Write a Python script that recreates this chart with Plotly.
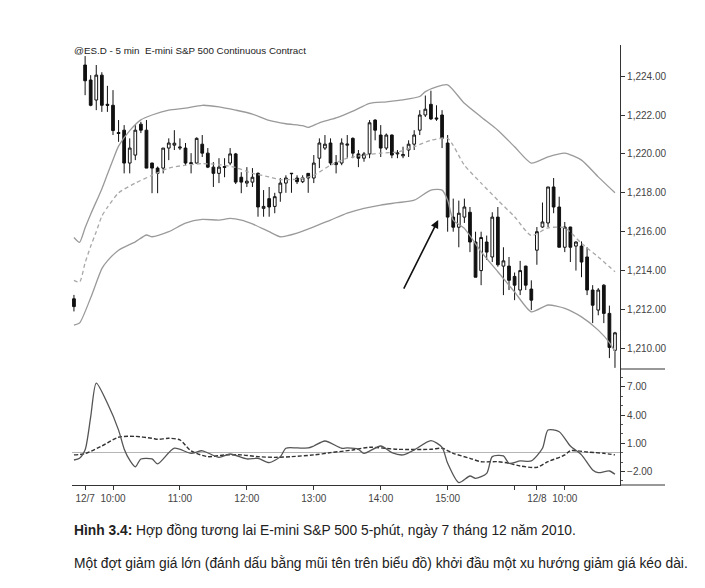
import plotly.graph_objects as go

# ---------------- data ----------------
DAY_OFFSET = {"12/6": -1, "12/7": 0, "12/8": 1}
SESSION_START = 9 * 60 + 35      # first 5-min bar of a session ends at 9:35
BARS_PER_SESSION = 81            # 9:35 ... 16:15


def clock(start_min, n):
    return [f"{(start_min + 5 * i) // 60}:{(start_min + 5 * i) % 60:02d}" for i in range(n)]


bar_times = (["12/6 16:10"]
             + ["12/7 " + t for t in clock(SESSION_START, 81)]
             + ["12/8 " + t for t in clock(SESSION_START, 15)])

opens = [1212.55,
         1224.57, 1223.80, 1222.77, 1224.05, 1222.55, 1222.50, 1221.10, 1221.22, 1219.53, 1219.94,
         1221.53, 1221.22, 1219.53, 1219.27, 1219.27, 1220.30, 1220.45, 1220.30, 1220.30, 1219.55,
         1219.53, 1220.50, 1220.04, 1219.32, 1219.00, 1219.30, 1219.53, 1220.00, 1218.80, 1218.50,
         1218.55, 1219.00, 1217.20, 1217.70, 1217.30, 1218.00, 1218.50, 1218.98, 1218.76, 1218.57,
         1219.00, 1218.76, 1219.78, 1220.30, 1220.56, 1219.45, 1219.53, 1220.45, 1220.80, 1220.00,
         1219.78, 1220.00, 1221.74, 1220.97, 1220.30, 1220.97, 1220.00, 1219.90, 1220.20, 1220.50,
         1221.22, 1222.00, 1222.55, 1221.85, 1222.00, 1220.56, 1216.75, 1216.23, 1216.75, 1217.00,
         1215.47, 1214.00, 1215.47, 1214.70, 1216.75, 1214.23, 1214.23, 1213.70, 1213.00, 1214.23,
         1213.05,
         1215.05, 1216.24, 1216.45, 1218.30, 1217.27, 1215.20, 1216.24, 1215.26, 1215.26, 1214.70,
         1213.00, 1211.97, 1213.25, 1211.80, 1209.90]
highs = [1212.75,
         1225.03, 1224.05, 1224.57, 1224.20, 1223.50, 1223.28, 1221.74, 1221.48, 1220.80, 1221.48,
         1221.65, 1221.74, 1219.55, 1219.35, 1220.30, 1220.80, 1221.22, 1220.80, 1220.56, 1220.04,
         1220.85, 1220.97, 1220.30, 1219.58, 1219.78, 1219.78, 1220.30, 1220.05, 1219.06, 1219.32,
         1219.27, 1219.05, 1218.14, 1218.30, 1218.00, 1218.76, 1218.90, 1219.00, 1218.90, 1218.90,
         1219.00, 1219.94, 1220.80, 1220.97, 1220.80, 1219.94, 1220.80, 1220.97, 1220.85, 1220.20,
         1220.10, 1221.74, 1221.78, 1221.48, 1221.05, 1221.00, 1220.20, 1220.37, 1220.70, 1221.22,
         1222.25, 1223.00, 1223.25, 1222.50, 1222.25, 1220.97, 1217.70, 1217.60, 1217.70, 1217.27,
         1216.00, 1216.00, 1215.80, 1217.00, 1217.27, 1215.20, 1214.70, 1213.90, 1214.50, 1214.25,
         1213.50,
         1216.24, 1217.50, 1218.30, 1218.76, 1217.80, 1216.50, 1216.25, 1215.50, 1215.50, 1215.20,
         1213.25, 1213.10, 1213.30, 1212.20, 1210.85]
lows = [1211.90,
        1223.02, 1222.45, 1222.25, 1222.16, 1222.16, 1220.97, 1220.62, 1219.00, 1219.00, 1219.68,
        1221.07, 1219.27, 1217.98, 1217.98, 1219.00, 1219.68, 1220.20, 1220.20, 1219.42, 1219.00,
        1219.50, 1219.84, 1219.27, 1218.30, 1218.50, 1218.80, 1219.42, 1218.45, 1217.98, 1218.30,
        1218.30, 1216.77, 1216.77, 1216.77, 1216.95, 1217.54, 1218.00, 1218.00, 1218.45, 1218.50,
        1218.00, 1218.50, 1219.27, 1220.20, 1219.42, 1219.00, 1219.42, 1219.80, 1219.78, 1219.32,
        1219.60, 1219.78, 1220.70, 1219.84, 1220.20, 1219.78, 1219.78, 1219.78, 1219.84, 1220.20,
        1220.97, 1221.90, 1221.74, 1221.70, 1220.30, 1216.00, 1216.00, 1215.20, 1216.45, 1214.95,
        1213.66, 1213.25, 1214.55, 1214.44, 1214.20, 1212.74, 1213.00, 1212.48, 1212.74, 1213.00,
        1211.97,
        1214.30, 1216.20, 1216.24, 1216.95, 1215.20, 1214.95, 1214.44, 1214.00, 1213.66, 1212.74,
        1211.30, 1211.70, 1211.30, 1209.50, 1209.00]
closes = [1212.15,
          1223.76, 1222.50, 1224.05, 1222.50, 1222.50, 1221.20, 1221.05, 1219.53, 1220.30, 1221.22,
          1221.22, 1219.27, 1219.27, 1219.00, 1220.30, 1220.56, 1220.55, 1220.35, 1219.53, 1219.50,
          1220.80, 1220.04, 1219.32, 1219.00, 1219.32, 1219.35, 1220.00, 1218.55, 1218.55, 1218.60,
          1218.80, 1217.27, 1217.30, 1217.27, 1217.80, 1218.50, 1218.76, 1219.00, 1218.57, 1218.77,
          1218.76, 1219.53, 1220.56, 1220.50, 1219.53, 1219.55, 1220.56, 1220.50, 1220.04, 1219.78,
          1220.00, 1221.60, 1221.22, 1220.30, 1220.97, 1219.94, 1220.05, 1219.97, 1220.50, 1220.97,
          1222.00, 1222.30, 1221.80, 1221.80, 1220.80, 1216.75, 1216.23, 1216.95, 1217.27, 1215.47,
          1213.66, 1215.70, 1214.95, 1216.75, 1214.30, 1214.50, 1213.50, 1213.25, 1214.00, 1213.25,
          1212.48,
          1216.00, 1216.50, 1218.30, 1217.27, 1215.20, 1216.24, 1215.20, 1215.47, 1214.44, 1213.00,
          1212.22, 1213.00, 1211.80, 1210.05, 1210.80]

# Bollinger bands, sampled at bar numbers (bars counted from 12/7 9:35)
upper_bars = [-2, -1, 0, 1, 3, 4, 5, 6, 8, 10, 12, 15, 18, 21, 24, 27, 30, 33, 36, 39,
              40, 42, 45, 48, 51, 54, 57, 60, 61, 63, 65, 68, 71, 74, 77, 80, 83, 86, 89, 92, 95]
upper_vals = [1215.7, 1215.45, 1216.2, 1216.9, 1218.2, 1218.95, 1219.7, 1220.4, 1221.2, 1221.75,
              1222.0, 1222.25, 1222.35, 1222.5, 1222.42, 1222.25, 1222.05, 1221.72, 1221.55, 1221.45,
              1221.36, 1221.6, 1221.85, 1222.2, 1222.6, 1222.68, 1222.78, 1222.95, 1223.2, 1223.45,
              1223.55, 1222.6, 1221.9, 1221.22, 1220.37, 1219.53, 1219.85, 1220.04, 1219.68, 1218.82,
              1218.0]
mid_bars = [-2, -1, 0, 1, 2, 3, 4, 6, 9, 12, 15, 18, 21, 24, 27, 30, 33, 35, 38, 41,
            44, 47, 50, 53, 56, 59, 62, 65, 68, 71, 74, 77, 80, 83, 86, 89, 92, 95]
mid_vals = [1213.5, 1213.4, 1214.4, 1215.25, 1216.0, 1216.8, 1217.25, 1218.0, 1218.5, 1218.9,
            1219.27, 1219.42, 1219.5, 1219.45, 1219.3, 1219.0, 1218.82, 1218.68, 1218.7, 1218.9,
            1219.42, 1219.78, 1219.94, 1220.04, 1220.1, 1220.37, 1220.7, 1220.8, 1219.42, 1218.5,
            1217.62, 1216.77, 1215.8, 1216.2, 1216.2, 1215.4, 1214.7, 1213.94]
lower_bars = [-2, -1, 1, 3, 4, 6, 9, 11, 12, 15, 18, 21, 24, 26, 28, 30, 33, 35, 38, 41,
              44, 47, 50, 53, 56, 59, 62, 64, 65, 66, 68, 71, 74, 77, 80, 83, 86, 89, 92, 94, 95]
lower_vals = [1211.2, 1211.3, 1212.6, 1214.1, 1214.5, 1215.05, 1215.48, 1215.83, 1215.74, 1216.0,
              1216.44, 1216.63, 1216.6, 1216.68, 1216.6, 1216.4, 1216.0, 1215.74, 1215.93, 1216.25,
              1216.6, 1216.95, 1217.2, 1217.37, 1217.49, 1217.62, 1218.14, 1218.14, 1217.62, 1216.6,
              1216.17, 1214.97, 1213.94, 1212.9, 1211.88, 1212.23, 1212.06, 1211.62, 1210.94, 1210.3,
              1209.83]

# lower panel oscillator (solid) and its signal line (dashed)
osc_bars = [-2, -1, 0, 1, 2, 4, 6, 7, 8, 9, 10, 12, 13, 16, 19, 21, 24, 26, 29, 31, 33,
            35, 36, 38, 40, 41, 43, 46, 47, 49, 50, 53, 55, 57, 59, 62, 64, 65, 67, 69, 70,
            72, 73, 75, 76, 78, 80, 82, 83, 85, 87, 89, 91, 92, 94, 95]
osc_vals = [-0.78, -0.6, 0.3, 3.8, 7.4, 5.25, 2.4, 0.4, -0.8, -1.5, -0.67, -0.67, -1.2, 0.47,
            -0.07, 0.2, -0.5, -0.14, -0.67, -0.6, -1.06,
            -0.42, 0.47, 0.5, 0.5, 0.71, 1.24, 0.47, 0.5, 0.36, -0.07, 0.71, 0.0, -0.24, 0.29,
            1.28, 0.57, -1.13, -3.19, -2.48, -2.73,
            -2.2, -0.42, -0.35, -1.13, -0.88, -0.88, 0.47, 2.41, 2.23, 0.71, -0.24, -1.84, -2.13,
            -1.95, -2.3]
sig_bars = [-2, 0, 3, 6, 9, 12, 13, 15, 17, 19, 22, 25, 28, 31, 34, 37, 41, 44, 48, 51,
            56, 62, 64, 66, 69, 71, 74, 76, 78, 81, 83, 86, 87, 90, 93, 95]
sig_vals = [-0.24, -0.1, 0.71, 1.64, 1.73, 1.53, 1.42, 1.53, 1.35, 0.2,
            -0.42, -0.24, -0.24, -0.42, -0.5, -0.42, -0.24, 0.0, 0.29, 0.57,
            0.36, 0.36, 0.47, -0.07, -0.6, -0.96, -0.96, -1.13, -1.42, -1.56,
            -0.96, -0.24, 0.2, 0.07, -0.07, -0.24]

price_ticks = [1210, 1212, 1214, 1216, 1218, 1220, 1222, 1224]
osc_ticks = [-2, 1, 4, 7]
time_ticks = ["12/7 9:35", "12/7 10:00", "12/7 11:00", "12/7 12:00", "12/7 13:00",
              "12/7 14:00", "12/7 15:00", "12/7 16:00", "12/8 9:35", "12/8 10:00"]
time_labels = ["12/7", "10:00", "11:00", "12:00", "13:00", "14:00", "15:00", "", "12/8", "10:00"]

title_text = "@ES.D - 5 min\u00a0\u00a0E-mini S&P 500 Continuous Contract"
caption1 = "<b>Hình 3.4:</b> Hợp đồng tương lai E-mini S&P 500 5-phút, ngày 7 tháng 12 năm 2010."
caption2 = "Một đợt giảm giá lớn (đánh dấu bằng mũi tên trên biểu đồ) khởi đầu một xu hướng giảm giá kéo dài."


def bar_of(stamp):
    day, hm = stamp.split()
    h, m = hm.split(":")
    return DAY_OFFSET[day] * BARS_PER_SESSION + (int(h) * 60 + int(m) - SESSION_START) // 5


# ---------------- figure ----------------
PAGE_MARGIN = 8                     # the page body adds an 8px offset
W, H = 705 - PAGE_MARGIN, 588 - PAGE_MARGIN
px_x = lambda p: (p - PAGE_MARGIN) / W
px_y = lambda p: 1 - (p - PAGE_MARGIN) / H

bar_x = [bar_of(t) for t in bar_times]
INK = "#111111"
BAND = "#9a9a9a"

fig = go.Figure()
fig.add_trace(go.Scatter(x=upper_bars, y=upper_vals, mode="lines",
                         line=dict(color=BAND, width=1.3, shape="spline", smoothing=0.6),
                         xaxis="x", yaxis="y", hoverinfo="skip"))
fig.add_trace(go.Scatter(x=lower_bars, y=lower_vals, mode="lines",
                         line=dict(color=BAND, width=1.3, shape="spline", smoothing=0.6),
                         xaxis="x", yaxis="y", hoverinfo="skip"))
fig.add_trace(go.Scatter(x=mid_bars, y=mid_vals, mode="lines",
                         line=dict(color="#a8a8a8", width=1.3, dash="4px,3px", shape="spline", smoothing=0.6),
                         xaxis="x", yaxis="y", hoverinfo="skip"))
fig.add_trace(go.Candlestick(x=bar_x, open=opens, high=highs, low=lows, close=closes,
                             increasing=dict(line=dict(color=INK, width=1), fillcolor="white"),
                             decreasing=dict(line=dict(color=INK, width=1), fillcolor=INK),
                             whiskerwidth=0, xaxis="x", yaxis="y"))
fig.add_trace(go.Scatter(x=sig_bars, y=sig_vals, mode="lines",
                         line=dict(color="#333333", width=1.4, dash="4px,2px", shape="spline", smoothing=0.8),
                         xaxis="x", yaxis="y2", hoverinfo="skip"))
fig.add_trace(go.Scatter(x=osc_bars, y=osc_vals, mode="lines",
                         line=dict(color="#555555", width=1.3, shape="spline", smoothing=0.7),
                         xaxis="x", yaxis="y2", hoverinfo="skip"))

axis_font = dict(family="Liberation Sans, Arial, sans-serif", size=10, color="#444444")
caption_font = dict(family="Liberation Sans, Arial, sans-serif", size=13.8, color="#222222")

fig.update_layout(
    width=W, height=H,
    margin=dict(l=0, r=0, t=0, b=0),
    paper_bgcolor="white", plot_bgcolor="white",
    showlegend=False,
    xaxis=dict(domain=[px_x(72), px_x(620)], range=[-2.35, 95.9], anchor="y2",
               rangeslider=dict(visible=False), showgrid=False, zeroline=False,
               showline=True, linecolor="#333333", linewidth=1.2,
               ticks="outside", ticklen=4, tickcolor="#333333",
               tickvals=[bar_of(t) for t in time_ticks], ticktext=time_labels,
               tickfont=axis_font),
    yaxis=dict(domain=[px_y(369), px_y(45)], range=[1208.94, 1225.6], anchor="x", side="right",
               showgrid=False, zeroline=False, showline=True, linecolor="#333333", linewidth=1.2,
               ticks="outside", ticklen=4, tickcolor="#333333",
               tickvals=price_ticks, tickformat=",.2f", tickfont=axis_font),
    yaxis2=dict(domain=[px_y(485), px_y(369)], range=[-3.44, 8.9], anchor="x", side="right",
                showgrid=False, zeroline=True, zerolinecolor="#b5b5b5", zerolinewidth=1.2,
                showline=True, linecolor="#333333", linewidth=1.2,
                ticks="outside", ticklen=4, tickcolor="#333333",
                tickvals=osc_ticks, tickformat=".2f", tickfont=axis_font,
                minor=dict(dtick=1, ticks="outside", ticklen=2, tickcolor="#555555")),
    shapes=[
        dict(type="line", xref="paper", yref="paper", x0=px_x(620), x1=px_x(665),
             y0=px_y(369), y1=px_y(369), line=dict(color="#333333", width=1.2)),
        dict(type="line", xref="paper", yref="paper", x0=px_x(620), x1=px_x(665),
             y0=px_y(485), y1=px_y(485), line=dict(color="#333333", width=1.2)),
    ],
    annotations=[
        dict(text=title_text, xref="paper", yref="paper", x=px_x(72), y=px_y(50),
             xanchor="left", yanchor="middle", showarrow=False,
             font=dict(family="Liberation Sans, Arial, sans-serif", size=9.8, color="#222222")),
        dict(x=63.3, y=1216.6, ax=57.0, ay=1213.0, xref="x", yref="y", axref="x", ayref="y",
             text="", showarrow=True, arrowhead=2, arrowsize=1, arrowwidth=1.6, arrowcolor=INK),
        dict(text=caption1, xref="paper", yref="paper", x=px_x(72), y=px_y(530),
             xanchor="left", yanchor="middle", showarrow=False, font=caption_font),
        dict(text=caption2, xref="paper", yref="paper", x=px_x(72), y=px_y(563),
             xanchor="left", yanchor="middle", showarrow=False, font=caption_font),
    ],
)

fig.write_html("out.html")
